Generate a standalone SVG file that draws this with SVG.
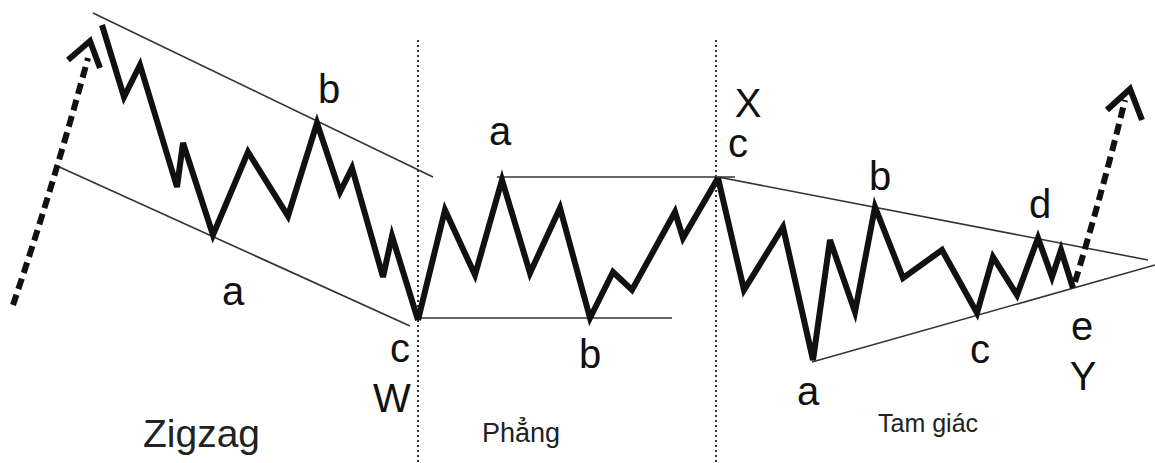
<svg xmlns="http://www.w3.org/2000/svg" width="1155" height="463" viewBox="0 0 1155 463">
<style>
.wave{fill:none;stroke:#111;stroke-width:6;stroke-linejoin:miter;stroke-linecap:butt}
.chan{fill:none;stroke:#333;stroke-width:1.6}
.sep{fill:none;stroke:#333;stroke-width:2;stroke-dasharray:2 3}
.trend{fill:none;stroke:#111;stroke-width:6;stroke-dasharray:11 6}
.head{fill:none;stroke:#111;stroke-width:6;stroke-linejoin:miter}
.lbl{font-family:"Liberation Sans",Arial,sans-serif;font-size:40px;fill:#111;text-anchor:middle}
.title{font-family:"Liberation Sans",Arial,sans-serif;fill:#222}
</style>
<rect width="1155" height="463" fill="#fff"/>
<g id="separators">
<line class="sep" x1="418" y1="40" x2="418" y2="463"/>
<line class="sep" x1="716" y1="40" x2="716" y2="463"/>
</g>
<g id="connectors">
<line class="chan" x1="93" y1="13" x2="433" y2="177"/>
<line class="chan" x1="55" y1="165" x2="410" y2="326"/>
<line class="chan" x1="418" y1="318" x2="672" y2="318"/>
<line class="chan" x1="497" y1="177" x2="735" y2="177"/>
<line class="chan" x1="718" y1="177" x2="1148" y2="260"/>
<line class="chan" x1="812" y1="362" x2="1155" y2="265"/>
<path class="trend" d="M13,305 Q52,190 88,58"/>
<path class="head" d="M68,60 L90,41 L100,68"/>
<path class="trend" d="M1075,282 Q1103,190 1125,100"/>
<path class="head" d="M1107,110 L1130,89 L1142,120"/>
</g>
<g id="zigzag">
<path class="wave" d="M102,25 L124,97 L140,65 L177,187 L183,143 L213,235 L248,152 L288,216 L317,123 L340,192 L352,168 L383,277 L392,236 L418,320"/>
<text class="lbl" x="329" y="103">b</text>
<text class="lbl" x="233" y="305">a</text>
<text class="lbl" x="400" y="362">c</text>
<text class="lbl" x="392" y="412">W</text>
<text class="title" x="143" y="447" font-size="39">Zigzag</text>
</g>
<g id="flat">
<path class="wave" d="M418,320 L445,210 L475,275 L502,180 L530,273 L560,208 L590,318 L613,272 L632,290 L675,212 L683,238 L718,178"/>
<text class="lbl" x="500" y="145">a</text>
<text class="lbl" x="590" y="368">b</text>
<text class="title" x="482" y="442" font-size="27">Phẳng</text>
</g>
<g id="triangle">
<path class="wave" d="M718,178 L744,290 L783,227 L813,360 L830,240 L855,312 L875,207 L903,278 L942,250 L977,313 L993,257 L1017,295 L1038,238 L1052,277 L1061,250 L1073,288"/>
<text class="lbl" x="748" y="117">X</text>
<text class="lbl" x="738" y="157">c</text>
<text class="lbl" x="880" y="190">b</text>
<text class="lbl" x="1040" y="218">d</text>
<text class="lbl" x="808" y="405">a</text>
<text class="lbl" x="980" y="363">c</text>
<text class="lbl" x="1082" y="340">e</text>
<text class="lbl" x="1083" y="390">Y</text>
<text class="title" x="878" y="432" font-size="25">Tam giác</text>
</g>
</svg>
